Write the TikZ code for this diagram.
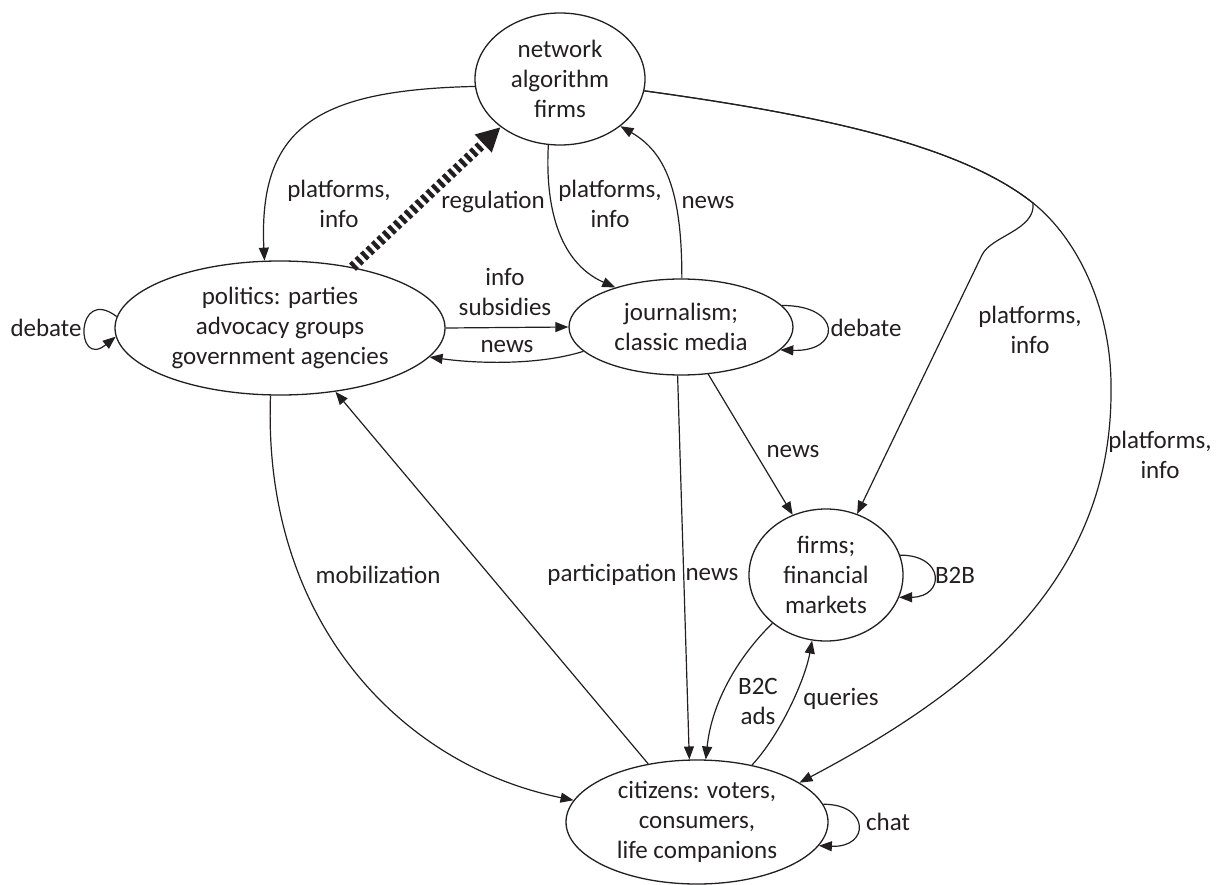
\documentclass[tikz,border=0pt]{standalone}
\usepackage{fontspec}
\setmainfont{Carlito}
\usetikzlibrary{arrows.meta,shapes.geometric}
\definecolor{ink}{HTML}{231F20}
\begin{document}
\begin{tikzpicture}[x=1pt,y=1pt,
  ent/.style={ellipse, draw=ink, line width=1.3pt, inner sep=0pt, align=center, text=ink,
    font=\fontsize{25pt}{30pt}\selectfont},
  lbl/.style={align=center, text=ink, inner sep=0pt, font=\fontsize{25pt}{30pt}\selectfont},
  arr/.style={draw=ink, line width=1.2pt, -{Triangle[length=13pt,width=10pt]}},
  reg/.style={draw=ink, line width=10pt, dash pattern=on 4pt off 3.5pt, -{Triangle[length=24pt,width=23pt]}}]
\path[use as bounding box] (0,0) rectangle (1220,-885);

% entities
\node[ent, minimum width=170pt, minimum height=132pt] (net) at (560,-79) {network\\algorithm\\firms};
\node[ent, minimum width=330pt, minimum height=134pt] (pol) at (280,-328) {politics: parties\\advocacy groups\\government agencies};
\node[ent, minimum width=224pt, minimum height=96pt] (jour) at (681,-327) {journalism;\\classic media};
\node[ent, minimum width=154pt, minimum height=132pt] (firms) at (826,-575) {firms;\\financial\\markets};
\node[ent, minimum width=262pt, minimum height=124pt] (cit) at (697,-822) {citizens: voters,\\consumers,\\life companions};

\coordinate (split) at (1033,-203);
\coordinate (bendA) at (982,-255);
\coordinate (farR) at (1111,-390);

% connectors
\draw[arr] (net.185) .. controls (320,-90) and (258,-125) .. (pol.103);
\draw[reg] (pol.40) -- (net.219);
\draw[arr] (net.260) .. controls (545,-205) and (558,-262) .. (jour.149);
\draw[arr] (jour.89) .. controls (682,-190) and (665,-152) .. (net.322);
\draw[arr] (pol.east) -- (jour.west);
\draw[arr] (jour.194) .. controls (540,-365) and (480,-364) .. (pol.349);
\draw[arr] (pol.176) .. controls (75,-285) and (75,-370) .. (pol.183);
\draw[arr] (jour.12) .. controls (842,-305) and (842,-352) .. (jour.347);
\draw[arr] (jour.300) -- (firms.119);
\draw[arr] (net.352) .. controls (820,-115) and (960,-145) .. (split)
   .. controls (1036,-230) and (991,-236) .. (bendA) -- (firms.63);
\draw[arr] (net.352) .. controls (820,-115) and (960,-145) .. (split)
   .. controls (1078,-239) and (1112,-310) .. (farR)
   .. controls (1112,-580) and (975,-690) .. (cit.21);
\draw[arr] (cit.130) -- (pol.311);
\draw[arr] (pol.262) .. controls (262,-620) and (400,-765) .. (cit.170);
\draw[arr] (jour.266) -- (cit.97);
\draw[arr] (firms.222) .. controls (740,-655) and (712,-700) .. (cit.82);
\draw[arr] (cit.46) .. controls (780,-735) and (805,-680) .. (firms.258);
\draw[arr] (firms.15) .. controls (945,-555) and (945,-597) .. (firms.343);
\draw[arr] (cit.8) .. controls (870,-804) and (870,-848) .. (cit.349);

% labels
\node[lbl] (l1) at (339,-204) {platforms,\\info};
\node[lbl] (l2) at (493,-202) {regulation};
\node[lbl] (l3) at (610,-204) {platforms,\\info};
\node[lbl] (l4) at (708,-203) {news};
\node[lbl] (l5) at (505,-292) {info\\subsidies};
\node[lbl] (l6) at (507,-347) {news};
\node[lbl] (l7) at (46,-328) {debate};
\node[lbl] (l8) at (866,-328) {debate};
\node[lbl] (l9) at (793,-452) {news};
\node[lbl] (l10) at (1030,-330) {platforms,\\info};
\node[lbl] (l11) at (1160,-455) {platforms,\\info};
\node[lbl] (l12) at (378,-575) {mobilization};
\node[lbl] (l13) at (612,-575) {participation};
\node[lbl] (l14) at (712,-575) {news};
\node[lbl] (l15) at (955,-575) {B2B};
\node[lbl] (l16) at (758,-701) {B2C\\ads};
\node[lbl] (l17) at (841,-699) {queries};
\node[lbl] (l18) at (888,-822) {chat};
\end{tikzpicture}
\end{document}
